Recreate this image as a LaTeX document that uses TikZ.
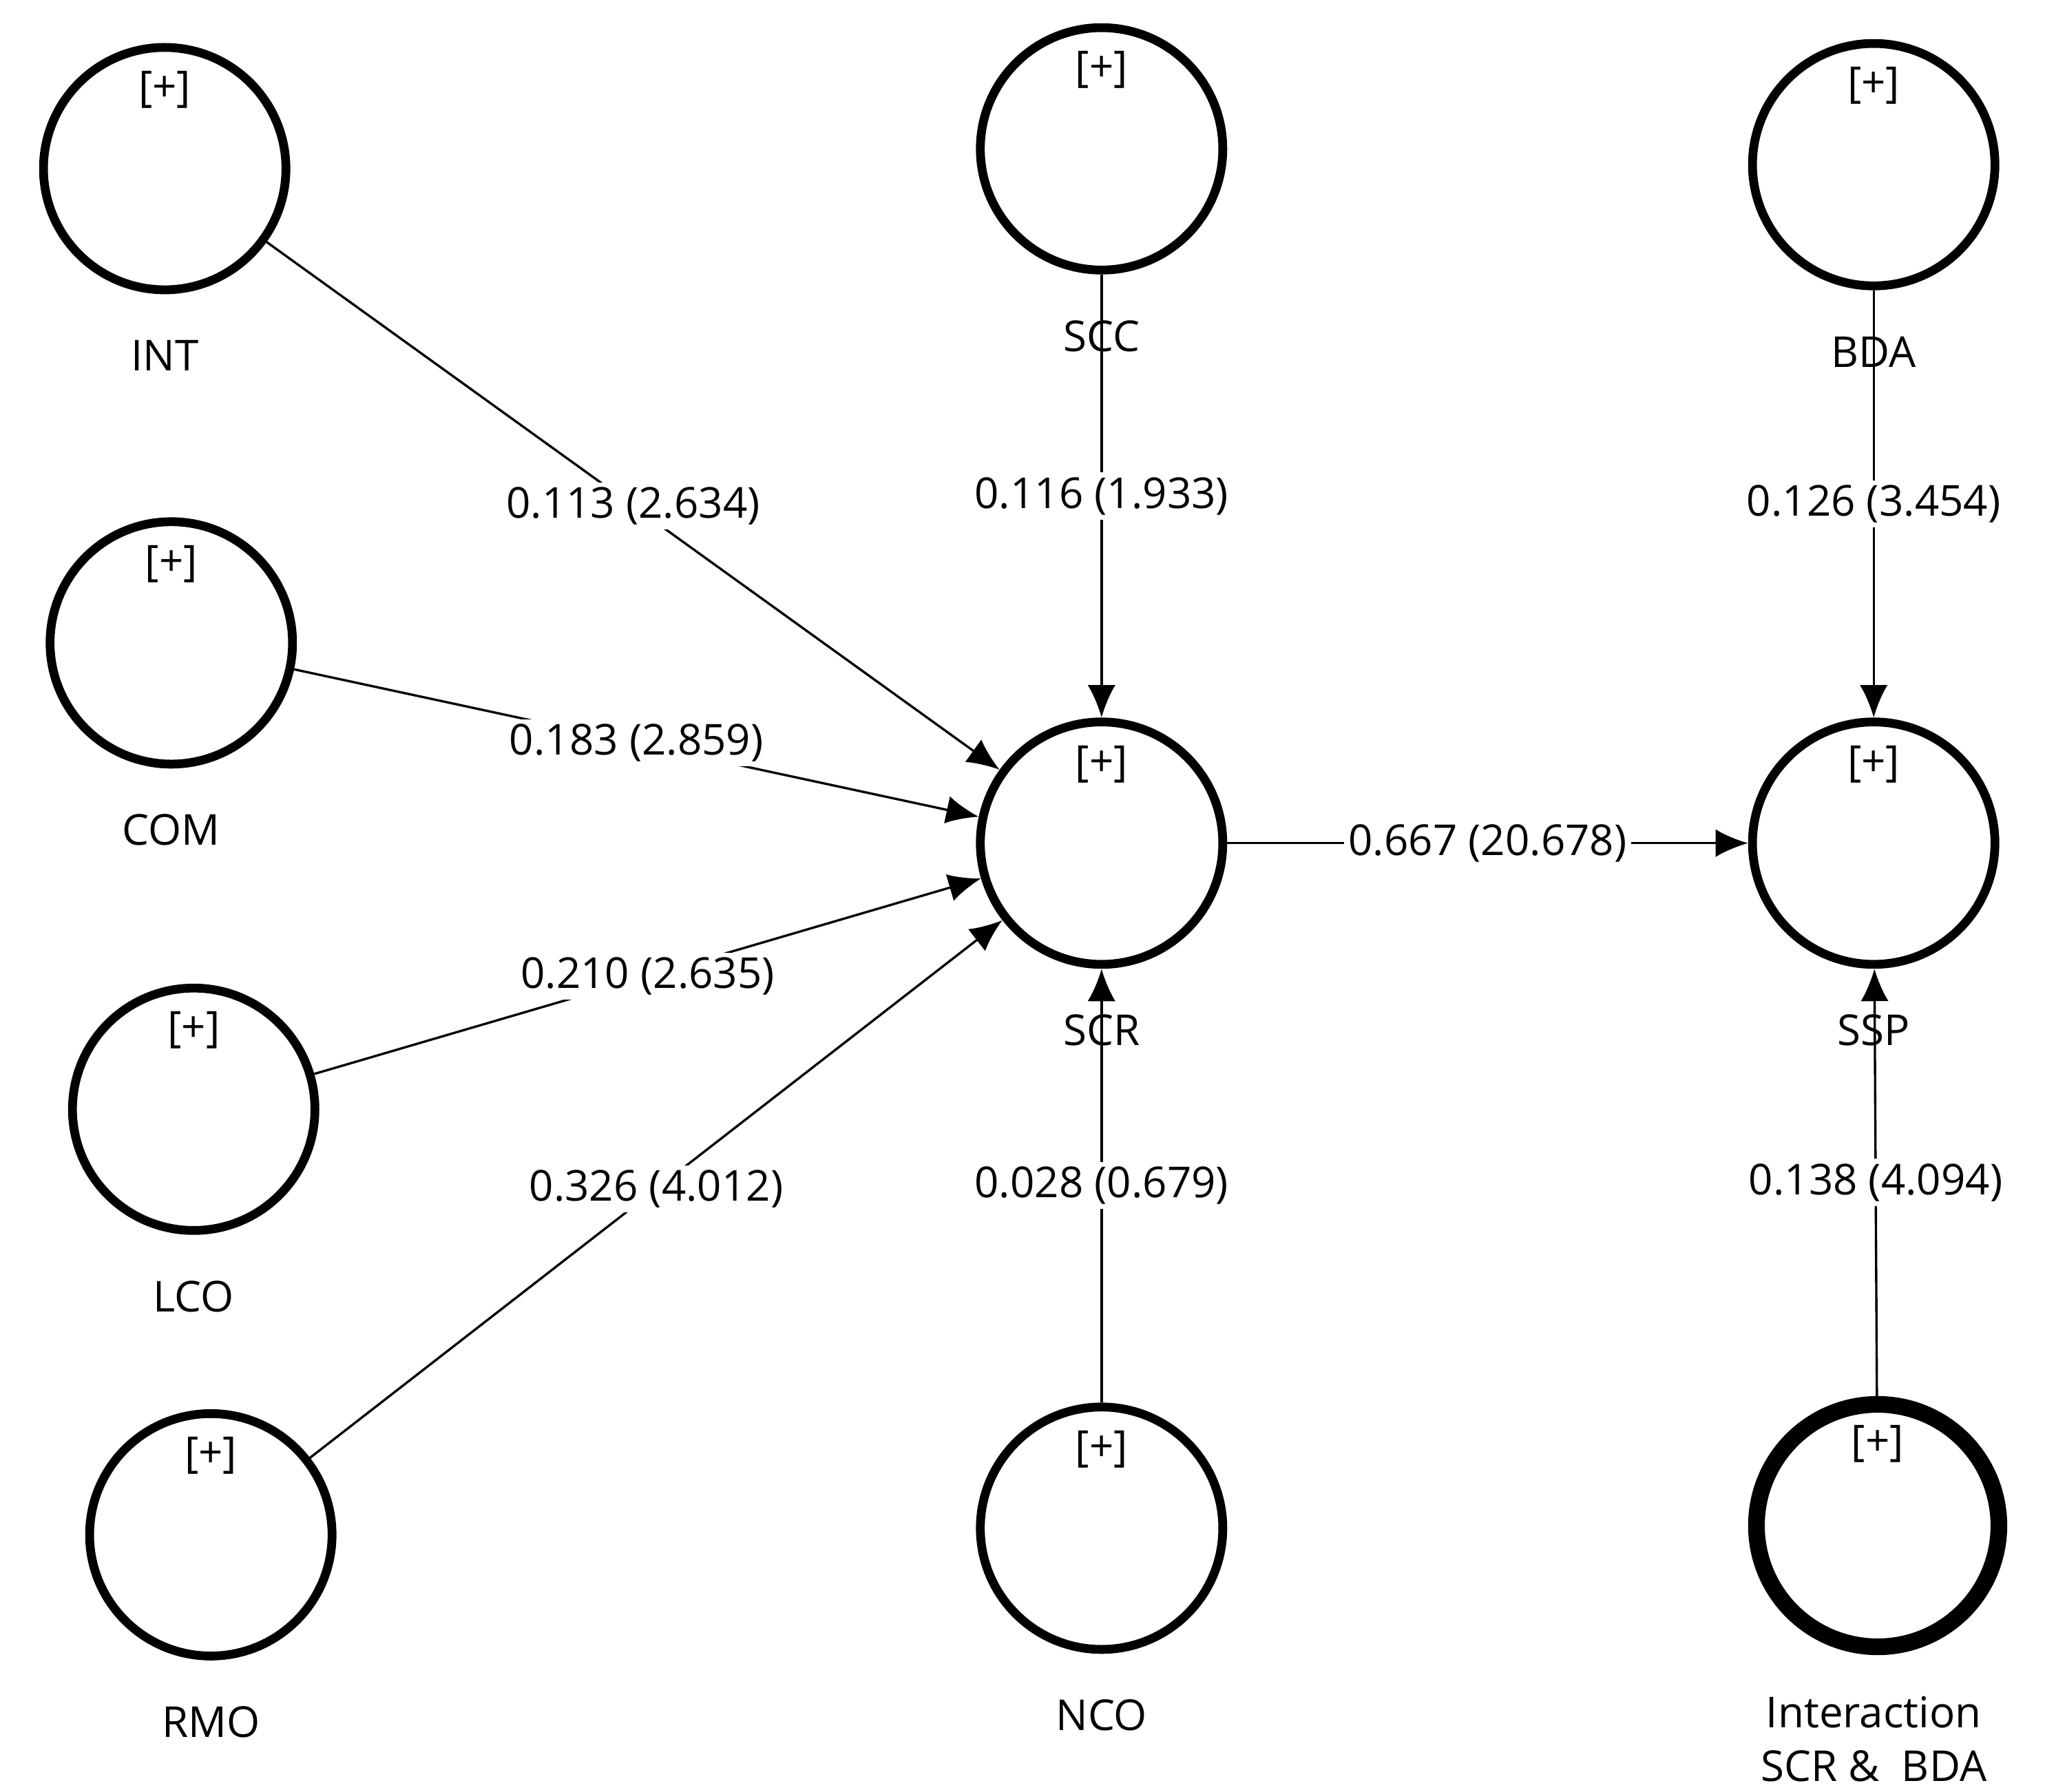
\documentclass[tikz,border=0pt]{standalone}
\usepackage{fontspec}
\setmainfont{Open Sans}
\usetikzlibrary{arrows.meta}

\tikzset{
  lv/.style={circle, draw, line width=1.9pt, minimum size=1.84cm, inner sep=0pt},
  lvthick/.style={lv, line width=3.6pt},
  lbl/.style={font=\fontsize{9.2}{11.5}\selectfont},
  path/.style={-{Latex[length=7pt,width=6pt]}, line width=0.5pt},
  coef/.style={fill=white, inner sep=1pt, font=\fontsize{9.2}{11}\selectfont, pos=0.5}
}

\begin{document}
\begin{tikzpicture}
\useasboundingbox (0,0) rectangle (15.52,-13.6);

% latent variables
\foreach \nm/\x/\y/\txt in {int/1.25/1.28/INT, com/1.30/4.88/COM, lco/1.47/8.42/LCO,
    rmo/1.60/11.65/RMO, scc/8.36/1.13/SCC, scr/8.36/6.40/SCR, nco/8.36/11.60/NCO,
    bda/14.22/1.25/BDA, ssp/14.22/6.40/SSP} {
  \node[lv] (\nm) at (\x,-\y) {};
  \node[lbl] at ([yshift=0.6cm]\nm.center) {[+]};
  \node[lbl] (\nm-t) at ([yshift=-1.42cm]\nm.center) {\txt};
}
\node[lvthick] (inter) at (14.25,-11.58) {};
\node[lbl] at ([yshift=0.62cm]inter.center) {[+]};
\node[lbl, align=center] (inter-t) at (14.22,-13.2) {Interaction\\SCR \&\ \ BDA};

% paths
\draw[path] (int) -- node[coef] {0.113 (2.634)} (scr);
\draw[path] (com) -- node[coef] {0.183 (2.859)} (scr);
\draw[path] (lco) -- node[coef] {0.210 (2.635)} (scr);
\draw[path] (rmo) -- node[coef] {0.326 (4.012)} (scr);
\draw[path] (scc) -- node[coef] {0.116 (1.933)} (scr);
\draw[path] (nco) -- node[coef] {0.028 (0.679)} (scr);
\draw[path] (scr) -- node[coef] {0.667 (20.678)} (ssp);
\draw[path] (bda) -- node[coef] {0.126 (3.454)} (ssp);
\draw[path] (inter) -- node[coef] {0.138 (4.094)} (ssp);

\end{tikzpicture}
\end{document}
